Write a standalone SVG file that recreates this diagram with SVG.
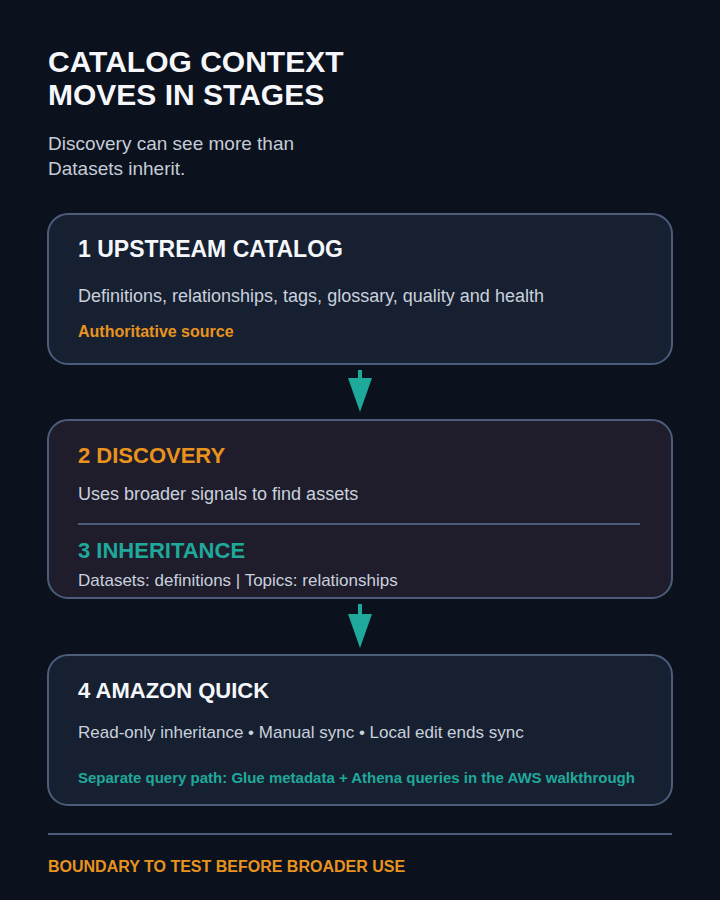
<svg xmlns="http://www.w3.org/2000/svg" width="720" height="900" viewBox="0 0 720 900">
<defs>
<style>
text{font-family:"Liberation Sans",Arial,sans-serif}
.h1{font-size:30px;font-weight:bold;fill:#f5f7fa}
.sub{font-size:19px;fill:#c5cdd8}
.box{fill:#172031;stroke:#4b5d7a;stroke-width:2}
.box2{fill:#1f1d2c;stroke:#4b5d7a;stroke-width:2}
.t{font-size:22px;font-weight:bold;fill:#f5f7fa}
.o{fill:#e8931e}
.g{fill:#1fa99b}
.b{font-size:17px;fill:#c9d1dc}
.n{font-size:15px;font-weight:bold}
.rule{stroke:#4b5d7a;stroke-width:2}
.arr{stroke:#1fa99b;stroke-width:4}
</style>
<marker id="ah" viewBox="0 0 34 24" refX="22" refY="12" markerWidth="34" markerHeight="24" markerUnits="userSpaceOnUse" orient="auto">
<path d="M0,0 L34,12 L0,24 Z" fill="#1fa99b"/>
</marker>
</defs>
<rect width="720" height="900" fill="#0b111d"/>
<g id="header">
<text class="h1" x="48" y="72">CATALOG CONTEXT</text>
<text class="h1" x="48" y="105">MOVES IN STAGES</text>
<text class="sub" x="48" y="150">Discovery can see more than</text>
<text class="sub" x="48" y="175">Datasets inherit.</text>
</g>
<g id="connectors">
<line class="arr" x1="360" y1="370" x2="360" y2="400" marker-end="url(#ah)"/>
<line class="arr" x1="360" y1="604" x2="360" y2="636" marker-end="url(#ah)"/>
</g>
<g id="upstream">
<rect class="box" x="48" y="214" width="624" height="150" rx="20"/>
<text class="t" x="78" y="257" style="font-size:23px">1 UPSTREAM CATALOG</text>
<text class="b" x="78" y="302" style="font-size:18px">Definitions, relationships, tags, glossary, quality and health</text>
<text class="n o" x="78" y="337" style="font-size:16px">Authoritative source</text>
</g>
<g id="discovery">
<rect class="box2" x="48" y="420" width="624" height="178" rx="20"/>
<text class="t o" x="78" y="463">2 DISCOVERY</text>
<text class="b" x="78" y="500" style="font-size:18px">Uses broader signals to find assets</text>
<line class="rule" x1="78" y1="524" x2="640" y2="524"/>
<text class="t g" x="78" y="558">3 INHERITANCE</text>
<text class="b" x="78" y="586">Datasets: definitions | Topics: relationships</text>
</g>
<g id="quick">
<rect class="box" x="48" y="655" width="624" height="150" rx="20"/>
<text class="t" x="78" y="698">4 AMAZON QUICK</text>
<text class="b" x="78" y="738">Read-only inheritance • Manual sync • Local edit ends sync</text>
<text class="n g" x="78" y="783">Separate query path: Glue metadata + Athena queries in the AWS walkthrough</text>
</g>
<g id="footer">
<line class="rule" x1="48" y1="834" x2="672" y2="834"/>
<text class="n o" x="48" y="872" style="font-size:16px">BOUNDARY TO TEST BEFORE BROADER USE</text>
</g>
</svg>
